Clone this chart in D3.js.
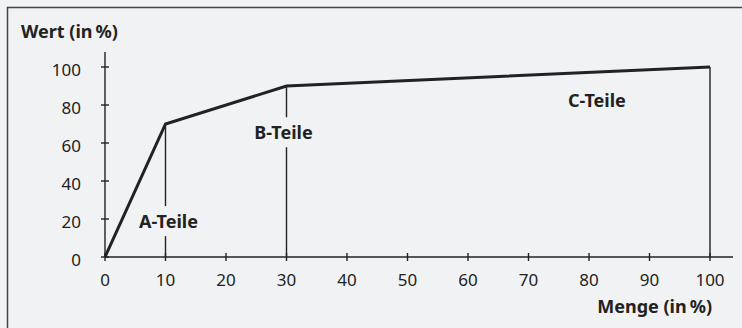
<!DOCTYPE html>
<html><head><meta charset="utf-8">
<script src="https://cdn.jsdelivr.net/npm/d3@7"></script>
<style>body{margin:0;background:#fff}svg{display:block}</style>
</head><body>
<script>
const mengeValues = [0, 10, 30, 100];
const wertValues = [0, 70, 90, 100];
const xTicks = [0,10,20,30,40,50,60,70,80,90,100];
const yTicks = [0,20,40,60,80,100];
const classLabels = ["A-Teile","B-Teile","C-Teile"];
const labelPos = [[10.5,15.2],[29.5,62],[81.3,79]];
const yTitle = "Wert (in\u2009%)";
const xTitle = "Menge (in\u2009%)";

const W=742,H=328,bg="#f1f2f4",ink="#222";
const svg=d3.select("body").append("svg").attr("width",W).attr("height",H);
svg.append("rect").attr("width",W).attr("height",H).attr("fill",bg);
svg.append("path").attr("d","M7.5,330V7.5H745").attr("fill","none").attr("stroke","#444").attr("stroke-width",1.5);

const x=d3.scaleLinear().domain([0,100]).range([105,710]);
const y=d3.scaleLinear().domain([0,100]).range([257,67]);
const font="'Source Sans Pro','Noto Sans',sans-serif";

const drops=svg.append("g");
mengeValues.slice(1).forEach((m,i)=>{
  drops.append("line").attr("x1",x(m)).attr("x2",x(m)).attr("y1",y(wertValues[i+1])).attr("y2",y(0))
   .attr("stroke",ink).attr("stroke-width",1.4);
});

svg.append("line").attr("x1",x(0)).attr("x2",733).attr("y1",y(0)).attr("y2",y(0)).attr("stroke",ink).attr("stroke-width",1.4);
svg.append("line").attr("x1",x(0)).attr("x2",x(0)).attr("y1",y(0)).attr("y2",52).attr("stroke",ink).attr("stroke-width",1.4);
const xa=svg.append("g");
xTicks.forEach(t=>{
  xa.append("line").attr("x1",x(t)).attr("x2",x(t)).attr("y1",y(0)-4).attr("y2",y(0)+4).attr("stroke",ink).attr("stroke-width",1.4);
  xa.append("text").attr("x",x(t)).attr("y",286).attr("text-anchor","middle").attr("font-family",font).attr("font-size",17).attr("fill",ink).text(t);
});
yTicks.forEach(t=>{
  xa.append("line").attr("x1",x(0)-4).attr("x2",x(0)+4).attr("y1",y(t)).attr("y2",y(t)).attr("stroke",ink).attr("stroke-width",1.4);
  xa.append("text").attr("x",81).attr("y",y(t)+8.5).attr("text-anchor","end").attr("font-family",font).attr("font-size",17).attr("fill",ink).text(t);
});

svg.append("path").datum(mengeValues.map((m,i)=>[m,wertValues[i]]))
  .attr("d",d3.line().x(d=>x(d[0])).y(d=>y(d[1])))
  .attr("fill","none").attr("stroke",ink).attr("stroke-width",3).attr("stroke-linejoin","miter");

classLabels.forEach((l,i)=>{
  const g=svg.append("g");
  const t=g.append("text").attr("x",x(labelPos[i][0])).attr("y",y(labelPos[i][1])).attr("text-anchor","middle")
    .attr("font-family",font).attr("font-size",18).attr("font-weight","bold").attr("fill",ink).text(l);
  const b=t.node().getBBox();
  g.insert("rect","text").attr("x",b.x-2).attr("y",b.y-3).attr("width",b.width+4).attr("height",b.height+6).attr("fill",bg);
});

svg.append("text").attr("x",21).attr("y",38).attr("font-family",font).attr("font-size",18).attr("font-weight","bold").attr("fill",ink).text(yTitle);
svg.append("text").attr("x",712).attr("y",313).attr("text-anchor","end").attr("font-family",font).attr("font-size",18).attr("font-weight","bold").attr("fill",ink).text(xTitle);
</script>
</body></html>
